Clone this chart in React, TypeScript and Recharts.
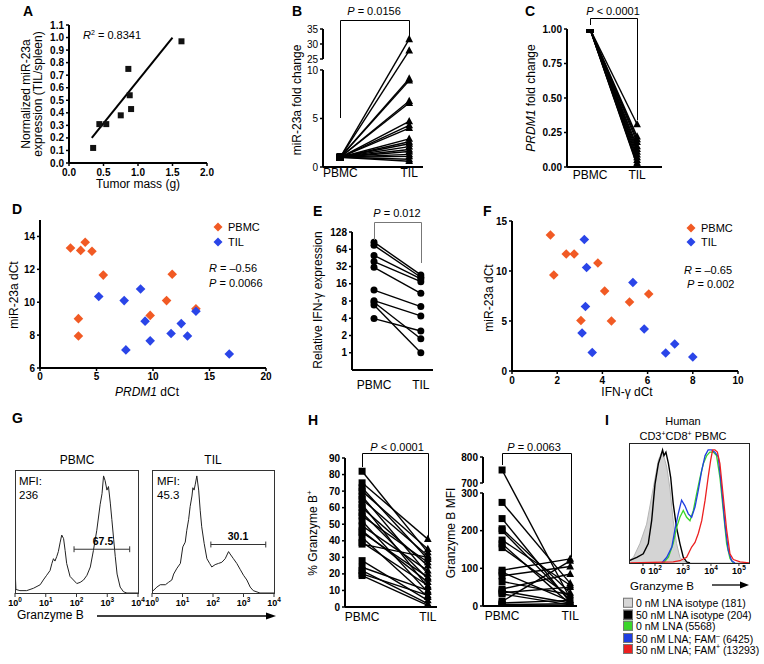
import React from 'react';
import {
  ScatterChart,
  Scatter,
  LineChart,
  Line,
  ComposedChart,
  Area,
  XAxis,
  YAxis,
  ReferenceLine,
} from 'recharts';

const FONT = "'Liberation Sans', Arial, Helvetica, sans-serif";
const ORANGE = '#f15a24';
const BLUE = '#2a45e8';

// A: normalized miR-23a vs tumor mass
const aMass = [0.35, 0.44, 0.54, 0.75, 0.86, 0.88, 0.9, 1.63];
const aMir = [0.12, 0.31, 0.31, 0.38, 0.75, 0.54, 0.43, 0.97];
const aFitMass = [0.33, 1.5];
const aFitMir = [0.2, 1.0];
const aXTicks = [0, 0.5, 1, 1.5, 2];
const aYTicks = [0, 0.1, 0.2, 0.3, 0.4, 0.5, 0.6, 0.7, 0.8, 0.9, 1.0, 1.1];

// B: miR-23a fold change, PBMC -> TIL
const bPbmc = [1, 1, 1, 1, 1, 1, 1, 1, 1, 1, 1, 1, 1, 1, 1, 1, 1, 1, 1];
const bTil = [31.6, 27.8, 9.1, 8.9, 6.8, 6.6, 4.7, 4.3, 4.0, 2.9, 2.6, 2.4, 2.1, 1.8, 1.6, 1.3, 1.1, 0.8, 0.6];
const bYTicks = [0, 5, 10, 25, 30, 35];

// C: PRDM1 fold change
const cPbmc = [1, 1, 1, 1, 1, 1, 1, 1, 1, 1, 1, 1, 1];
const cTil = [0.31, 0.22, 0.2, 0.18, 0.15, 0.13, 0.11, 0.09, 0.07, 0.05, 0.03, 0.02, 0.01];
const cYTicks = [0, 0.25, 0.5, 0.75, 1];

// D: miR-23a dCt vs PRDM1 dCt
const dPbmc = [[2.7, 13.3], [3.6, 13.15], [4.0, 13.65], [4.6, 13.1], [5.6, 11.65], [3.4, 9.0], [3.4, 7.95], [11.7, 11.7], [11.2, 10.1], [9.75, 9.2], [13.8, 9.6]];
const dTil = [[5.2, 10.35], [7.45, 10.1], [8.9, 10.8], [9.3, 8.85], [7.6, 7.1], [9.75, 7.65], [11.6, 8.1], [12.5, 8.7], [13.05, 7.95], [13.8, 9.45], [16.75, 6.85]];
const dXTicks = [0, 5, 10, 15, 20];
const dYTicks = [6, 8, 10, 12, 14];

// E: relative IFN-g expression
const ePbmc = [85, 75, 50, 39, 31, 12.4, 8.1, 7.6, 6.8, 3.95];
const eTil = [22.8, 20.8, 19.4, 17.4, 10.9, 6.4, 4.4, 1.76, 1.0, 2.4];
const eYTicks = [1, 2, 4, 8, 16, 32, 64, 128];

// F: miR-23a dCt vs IFN-g dCt
const fPbmc = [[1.7, 13.6], [1.85, 9.6], [2.4, 11.7], [2.75, 11.7], [3.8, 10.8], [4.1, 8.0], [3.05, 5.05], [4.4, 5.0], [5.2, 6.9], [6.05, 7.7]];
const fTil = [[3.2, 13.15], [3.3, 10.35], [3.25, 6.45], [3.1, 3.8], [3.55, 1.85], [5.35, 8.85], [5.85, 4.2], [6.8, 1.8], [7.2, 2.7], [8.0, 1.4]];
const fXTicks = [0, 2, 4, 6, 8, 10];
const fYTicks = [0, 5, 10, 15];

// G: granzyme B histograms (log10 intensity, % of max)
const gPbmc = [[0, 0], [0, 22], [0.03, 3], [0.16, 2], [0.38, 2], [0.6, 4], [0.82, 7], [0.92, 11], [1.03, 15], [1.14, 19], [1.2, 25], [1.25, 29], [1.3, 27], [1.36, 31], [1.41, 35], [1.47, 43], [1.52, 49], [1.58, 46], [1.63, 36], [1.68, 25], [1.79, 14], [1.9, 11], [2.01, 8], [2.12, 9], [2.23, 11], [2.34, 15], [2.45, 22], [2.55, 36], [2.66, 53], [2.77, 75], [2.83, 84], [2.88, 99], [2.93, 95], [2.99, 87], [3.04, 90], [3.1, 76], [3.15, 62], [3.21, 45], [3.26, 31], [3.32, 16], [3.42, 5], [3.53, 1], [3.64, 0], [4, 0]];
const gTil = [[0, 1], [0.16, 5], [0.27, 7], [0.44, 7], [0.54, 9], [0.65, 11], [0.71, 16], [0.82, 21], [0.93, 25], [1.01, 39], [1.09, 43], [1.14, 53], [1.2, 62], [1.25, 73], [1.31, 82], [1.34, 89], [1.38, 87], [1.42, 92], [1.47, 99], [1.53, 87], [1.58, 70], [1.63, 56], [1.71, 42], [1.8, 29], [1.89, 25], [1.96, 22], [2.07, 24], [2.18, 25], [2.29, 26], [2.4, 29], [2.51, 35], [2.56, 33], [2.67, 29], [2.78, 25], [2.89, 20], [3.0, 15], [3.11, 11], [3.22, 5], [3.32, 2], [3.54, 0], [4, 0]];
const gXTicks = [0, 1, 2, 3, 4];
const gXBase = ['10', '10', '10', '10', '10'];
const gXExp = ['0', '1', '2', '3', '4'];
const gPbmcGate = [1.92, 3.73, 37];
const gTilGate = [1.93, 3.73, 41];

// H: % granzyme B+ and granzyme B MFI
const hPctPbmc = [82, 75, 72, 70, 67, 65, 62, 60, 57, 55, 52, 49, 46, 42, 39, 38, 28, 24, 22, 20, 19, 45];
const hPctTil = [33, 41, 29, 35, 20, 31, 12, 25, 17, 27, 9, 22, 15, 6, 13, 30, 4, 10, 2, 7, 1, 18];
const hPctTicks = [0, 10, 20, 30, 40, 50, 60, 70, 80, 90];
const hMfiPbmc = [750, 275, 232, 205, 200, 175, 165, 155, 95, 90, 80, 65, 45, 40, 35, 32, 12, 8, 4, 2];
const hMfiTil = [20, 60, 10, 35, 15, 55, 5, 25, 125, 12, 105, 30, 85, 8, 50, 3, 120, 15, 6, 2];
const hMfiTicks = [0, 100, 200, 300, 700, 800];

// I: CD3+CD8+ PBMC histograms (display decades, % of max)
const iIso0 = [[1.07, 2], [1.23, 5], [1.46, 17], [1.7, 34], [1.94, 66], [2.12, 90], [2.24, 97], [2.32, 93], [2.42, 84], [2.54, 64], [2.65, 37], [2.77, 17], [2.89, 5], [3.01, 2], [3.13, 0], [5.36, 0]];
const iIso50 = [[1.08, 2], [1.35, 5], [1.58, 8], [1.76, 17], [1.88, 37], [2.0, 69], [2.12, 87], [2.2, 93], [2.27, 99], [2.32, 94], [2.39, 97], [2.48, 87], [2.56, 75], [2.65, 52], [2.77, 31], [2.89, 17], [3.01, 5], [3.13, 1], [3.25, 0]];
const iLna0 = [[2.3, 0], [2.48, 5], [2.65, 17], [2.77, 31], [2.89, 40], [3.01, 46], [3.13, 40], [3.25, 37], [3.37, 46], [3.49, 61], [3.61, 75], [3.73, 87], [3.85, 94], [3.96, 97], [4.08, 97], [4.2, 94], [4.32, 75], [4.44, 46], [4.56, 17], [4.68, 4], [4.8, 0]];
const iFamNeg = [[2.24, 0], [2.42, 5], [2.6, 14], [2.71, 29], [2.83, 43], [2.95, 55], [3.07, 50], [3.19, 43], [3.31, 40], [3.43, 49], [3.55, 64], [3.67, 81], [3.79, 94], [3.9, 99], [4.02, 99], [4.14, 97], [4.26, 93], [4.38, 66], [4.5, 34], [4.62, 11], [4.74, 2], [4.86, 0]];
const iFamPos = [[1.11, 0], [2.65, 1], [2.89, 2], [3.13, 5], [3.31, 14], [3.43, 18], [3.55, 26], [3.67, 37], [3.79, 55], [3.9, 75], [3.99, 90], [4.06, 99], [4.14, 99], [4.23, 97], [4.32, 87], [4.44, 58], [4.56, 29], [4.68, 8], [4.8, 3], [5.04, 1], [5.36, 0]];
const iXTicks = [1.57, 2, 3, 4, 5];
const iXBase = ['0', '10', '10', '10', '10'];
const iXExp = ['', '2', '3', '4', '5'];
const iLegend = [
  { label: '0 nM LNA isotype (181)', color: '#d6d6d6', sup: '', tail: '' },
  { label: '50 nM LNA isotype (204)', color: '#000000', sup: '', tail: '' },
  { label: '0 nM LNA (5568)', color: '#3ad62a', sup: '', tail: '' },
  { label: '50 nM LNA; FAM', color: '#1f3fe0', sup: '–', tail: ' (6425)' },
  { label: '50 nM LNA; FAM', color: '#ec2020', sup: '+', tail: ' (13293)' },
];

// broken axes
const bDisp = (v: number) => (v <= 10 ? v : 11.13 + (v - 25) * 0.309);
const hDisp = (v: number) => (v <= 300 ? v : 326.5 + (v - 700) * 0.69);

type Box = { x0: number; y0: number; x1: number; y1: number };

// place a chart so that its plot area sits exactly on box b
function frame(b: Box, l: number, t: number, r: number, bt: number, mirrored = false) {
  return {
    style: { position: 'absolute', left: b.x0 - l, top: b.y0 - t } as React.CSSProperties,
    width: b.x1 - b.x0 + l + r,
    height: b.y1 - b.y0 + t + bt,
    margin: { top: t, right: r, bottom: 0, left: mirrored ? l : 0 },
  };
}

const axisLine = { stroke: '#000', strokeWidth: 2 };
const tickLine = { stroke: '#000', strokeWidth: 1.5 };
const boldTick = { fontSize: 10, fontWeight: 700, fill: '#000' };

const squareShape = (s: number) => (p: any) => (
  <rect x={p.cx - s / 2} y={p.cy - s / 2} width={s} height={s} fill="#111" />
);

const diamondShape = (color: string) => (p: any) => (
  <path d={`M${p.cx},${p.cy - 4.8}L${p.cx + 4.8},${p.cy}L${p.cx},${p.cy + 4.8}L${p.cx - 4.8},${p.cy}Z`} fill={color} />
);

function pairDot(s: number, round = false) {
  return (p: any) => {
    const { cx, cy, payload, index } = p;
    const k = `d${index}`;
    if (cx == null || cy == null) return <g key={k} />;
    if (round) return <circle key={k} cx={cx} cy={cy} r={s / 2} fill="#000" />;
    if (payload.x === 0) {
      return <rect key={k} x={cx - s / 2} y={cy - s / 2} width={s} height={s} fill="#000" />;
    }
    return (
      <path
        key={k}
        d={`M${cx},${cy - s * 0.62}L${cx + s * 0.55},${cy + s * 0.42}L${cx - s * 0.55},${cy + s * 0.42}Z`}
        fill="#000"
      />
    );
  };
}

function powTick(ticks: number[], bases: string[], exps: string[]) {
  return (p: any) => {
    const i = ticks.findIndex((t) => Math.abs(t - p.payload.value) < 1e-6);
    if (i < 0) return <g />;
    return (
      <text x={p.x} y={p.y} dy="0.71em" textAnchor="middle" fontSize={9} fontWeight={700} fill="#000">
        {bases[i]}
        {exps[i] && (
          <tspan fontSize={6.5} dy={-4}>
            {exps[i]}
          </tspan>
        )}
      </text>
    );
  };
}

function PanelA() {
  const f = frame({ x0: 69, y0: 25, x1: 207, y1: 163 }, 32, 6, 12, 22);
  const pts = aMass.map((x, i) => ({ x, y: aMir[i] }));
  const fit = aFitMass.map((x, i) => ({ x, y: aFitMir[i] }));
  return (
    <div style={f.style}>
      <ScatterChart width={f.width} height={f.height} margin={f.margin}>
        <XAxis type="number" dataKey="x" domain={[0, 2]} ticks={aXTicks} interval={0} tickFormatter={(v: number) => v.toFixed(1)} axisLine={axisLine} tickLine={tickLine} tickSize={3} tickMargin={3} tick={boldTick} height={22} allowDataOverflow />
        <YAxis type="number" dataKey="y" domain={[0, 1.1]} ticks={aYTicks} interval={0} tickFormatter={(v: number) => v.toFixed(1)} axisLine={axisLine} tickLine={tickLine} tickSize={3} tick={boldTick} width={32} allowDataOverflow />
        <Scatter data={fit} line={{ stroke: '#000', strokeWidth: 2 }} shape={() => <g />} isAnimationActive={false} />
        <Scatter data={pts} shape={squareShape(6)} isAnimationActive={false} />
      </ScatterChart>
    </div>
  );
}

function Paired(props: any) {
  const { box, L, xDom, yDom, yTicks, yFmt, pbmc, til, dot, scale = 'linear', segs, bold = true, xGap } = props;
  const f = frame(box, L, 8, 6, 24);
  return (
    <div style={f.style}>
      <LineChart width={f.width} height={f.height} margin={f.margin}>
        <XAxis type="number" dataKey="x" domain={xDom} ticks={[0, 1]} interval={0} tickFormatter={(v: number) => (v === 0 ? 'PBMC' : 'TIL')} axisLine={axisLine} tickLine={false} tickSize={0} tickMargin={xGap} tick={{ fontSize: 12, fill: '#000' }} height={24} allowDataOverflow />
        <YAxis type="number" scale={scale} domain={yDom} ticks={yTicks} interval={0} tickFormatter={yFmt} axisLine={segs ? false : axisLine} tickLine={tickLine} tickSize={3} tick={{ ...boldTick, fontWeight: bold ? 700 : 400 }} width={L} allowDataOverflow />
        {segs &&
          segs.map((s: number[], i: number) => (
            <ReferenceLine key={`s${i}`} segment={[{ x: xDom[0], y: s[0] }, { x: xDom[0], y: s[1] }]} stroke="#000" strokeWidth={2} />
          ))}
        {pbmc.map((v: number, i: number) => (
          <Line
            key={i}
            data={[{ x: 0, y: v }, { x: 1, y: til[i] }]}
            dataKey="y"
            stroke="#000"
            strokeWidth={1.4}
            dot={dot}
            activeDot={false}
            isAnimationActive={false}
          />
        ))}
      </LineChart>
    </div>
  );
}

function Corr(props: any) {
  const { box, xDom, yDom, xTicks, yTicks, pbmc, til, xGap } = props;
  const f = frame(box, 24, 6, 12, 20);
  return (
    <div style={f.style}>
      <ScatterChart width={f.width} height={f.height} margin={f.margin}>
        <XAxis type="number" dataKey="x" domain={xDom} ticks={xTicks} interval={0} axisLine={axisLine} tickLine={tickLine} tickSize={3} tickMargin={xGap} tick={boldTick} height={20} allowDataOverflow />
        <YAxis type="number" dataKey="y" domain={yDom} ticks={yTicks} interval={0} axisLine={axisLine} tickLine={tickLine} tickSize={3} tick={boldTick} width={24} allowDataOverflow />
        <Scatter data={pbmc.map((p: number[]) => ({ x: p[0], y: p[1] }))} shape={diamondShape(ORANGE)} isAnimationActive={false} />
        <Scatter data={til.map((p: number[]) => ({ x: p[0], y: p[1] }))} shape={diamondShape(BLUE)} isAnimationActive={false} />
      </ScatterChart>
    </div>
  );
}

const gMinor = [0, 1, 2, 3].flatMap((k) => [2, 3, 4, 5, 6, 7, 8, 9].map((j) => k + Math.log10(j)));
const iMinor = [2, 3, 4].flatMap((k) => [2, 3, 4, 5, 6, 7, 8, 9].map((j) => k + Math.log10(j)));

function GHist({ box, pts, gate }: any) {
  const f = frame(box, 12, 2, 12, 20, true);
  const data = pts.map((p: number[]) => ({ x: p[0], y: p[1] }));
  const [g0, g1, gy] = gate;
  return (
    <div style={f.style}>
      <LineChart width={f.width} height={f.height} margin={f.margin}>
        <XAxis type="number" dataKey="x" domain={[0, 4]} ticks={gXTicks} interval={0} tick={powTick(gXTicks, gXBase, gXExp)} axisLine={false} tickLine={{ stroke: '#333' }} tickSize={4} tickMargin={3} height={20} allowDataOverflow />
        <XAxis xAxisId="m" type="number" dataKey="x" domain={[0, 4]} ticks={gMinor} interval={0} tick={false} axisLine={false} tickLine={{ stroke: '#333' }} tickSize={2} height={0} allowDataOverflow />
        <YAxis type="number" domain={[0, 104]} ticks={[16, 33, 49, 65, 81, 97]} interval={0} mirror tickFormatter={() => ''} axisLine={false} tickLine={{ stroke: '#333' }} tickSize={3} width={0} allowDataOverflow />
        <Line data={data} dataKey="y" stroke="#222" strokeWidth={1} dot={false} activeDot={false} isAnimationActive={false} />
        <ReferenceLine segment={[{ x: g0, y: gy }, { x: g1, y: gy }]} stroke="#333" />
        <ReferenceLine segment={[{ x: g0, y: gy - 2.5 }, { x: g0, y: gy + 2.5 }]} stroke="#333" />
        <ReferenceLine segment={[{ x: g1, y: gy - 2.5 }, { x: g1, y: gy + 2.5 }]} stroke="#333" />
      </LineChart>
    </div>
  );
}

function IHist() {
  const f = frame({ x0: 629, y0: 443, x1: 749, y1: 563 }, 8, 2, 12, 20, true);
  const toPts = (a: number[][]) => a.map((p) => ({ x: p[0], y: p[1] }));
  return (
    <div style={f.style}>
      <ComposedChart width={f.width} height={f.height} margin={f.margin} data={toPts(iIso0)}>
        <XAxis type="number" dataKey="x" domain={[1.07, 5.36]} ticks={iXTicks} interval={0} tick={powTick(iXTicks, iXBase, iXExp)} axisLine={false} tickLine={{ stroke: '#333' }} tickSize={3} tickMargin={2} height={20} allowDataOverflow />
        <XAxis xAxisId="m" type="number" dataKey="x" domain={[1.07, 5.36]} ticks={iMinor} interval={0} tick={false} axisLine={false} tickLine={{ stroke: '#333' }} tickSize={2} height={0} allowDataOverflow />
        <YAxis type="number" domain={[0, 105]} ticks={[20, 40, 60, 80, 100]} interval={0} mirror tickFormatter={() => ''} axisLine={false} tickLine={{ stroke: '#333' }} tickSize={3} width={0} allowDataOverflow />
        <Area type="linear" dataKey="y" fill="#d4d4d4" fillOpacity={1} stroke="#b5b5b5" strokeWidth={1} isAnimationActive={false} />
        <Line data={toPts(iIso50)} dataKey="y" stroke="#000" strokeWidth={1.4} dot={false} activeDot={false} isAnimationActive={false} />
        <Line data={toPts(iLna0)} dataKey="y" stroke="#3ad62a" strokeWidth={1.3} dot={false} activeDot={false} isAnimationActive={false} />
        <Line data={toPts(iFamNeg)} dataKey="y" stroke="#1f3fe0" strokeWidth={1.3} dot={false} activeDot={false} isAnimationActive={false} />
        <Line data={toPts(iFamPos)} dataKey="y" stroke="#ec2020" strokeWidth={1.3} dot={false} activeDot={false} isAnimationActive={false} />
      </ComposedChart>
    </div>
  );
}

function Tx({ x, y, a = 'start', s = 12, w = 400, rot = false, children, style }: any) {
  const tx = a === 'middle' ? '-50%' : a === 'end' ? '-100%' : '0';
  return (
    <div
      style={{
        position: 'absolute',
        left: x,
        top: y,
        transform: rot ? 'translate(-50%, -50%) rotate(-90deg)' : `translate(${tx}, -50%)`,
        fontSize: s,
        fontWeight: w,
        lineHeight: 1.1,
        whiteSpace: 'nowrap',
        textAlign: 'center',
        ...style,
      }}
    >
      {children}
    </div>
  );
}

const P = () => <i>P</i>;
const R = () => <i>R</i>;

export default function App() {
  const bTickPos = bYTicks.map(bDisp);
  const hTickPos = hMfiTicks.map(hDisp);
  const letters: [string, number, number][] = [
    ['A', 23, 12], ['B', 292, 12], ['C', 525, 12], ['D', 12, 210], ['E', 313, 212],
    ['F', 483, 212], ['G', 12, 419], ['H', 308, 421], ['I', 605, 421],
  ];
  return (
    <div style={{ position: 'absolute', left: 0, top: 0, width: 764, height: 664, background: '#fff', fontFamily: FONT, color: '#000', overflow: 'hidden' }}>
      <PanelA />
      <Paired
        box={{ x0: 323, y0: 29, x1: 423, y1: 167 }}
        L={22}
        xDom={[-0.25, 1.2]}
        yDom={[0, bDisp(35)]}
        yTicks={bTickPos}
        yFmt={(v: number) => String(bYTicks[bTickPos.findIndex((t) => Math.abs(t - v) < 1e-6)])}
        pbmc={bPbmc.map(bDisp)}
        til={bTil.map(bDisp)}
        dot={pairDot(7)}
        segs={[[0, 10], [bDisp(25), bDisp(35)]]}
        bold={false}
        xGap={1}
      />
      <Paired
        box={{ x0: 567, y0: 29, x1: 662, y1: 167 }}
        L={30}
        xDom={[-0.49, 1.53]}
        yDom={[0, 1]}
        yTicks={cYTicks}
        yFmt={(v: number) => v.toFixed(2)}
        pbmc={cPbmc}
        til={cTil}
        dot={pairDot(7)}
        xGap={3}
      />
      <Corr box={{ x0: 40, y0: 220, x1: 266, y1: 368 }} xDom={[0, 20]} yDom={[6, 15]} xTicks={dXTicks} yTicks={dYTicks} pbmc={dPbmc} til={dTil} xGap={2} />
      <Paired
        box={{ x0: 352, y0: 232, x1: 433, y1: 370 }}
        L={26}
        xDom={[-0.47, 1.26]}
        yDom={[0.5, 128]}
        scale="log"
        yTicks={eYTicks}
        yFmt={(v: number) => String(v)}
        pbmc={ePbmc}
        til={eTil}
        dot={pairDot(7, true)}
        xGap={10}
      />
      <Corr box={{ x0: 512, y0: 221, x1: 738, y1: 371 }} xDom={[0, 10]} yDom={[0, 15]} xTicks={fXTicks} yTicks={fYTicks} pbmc={fPbmc} til={fTil} xGap={3} />
      <GHist box={{ x0: 15, y0: 470, x1: 138, y1: 593 }} pts={gPbmc} gate={gPbmcGate} />
      <GHist box={{ x0: 152, y0: 470, x1: 274, y1: 593 }} pts={gTil} gate={gTilGate} />
      <Paired
        box={{ x0: 345, y0: 458, x1: 437, y1: 607 }}
        L={22}
        xDom={[-0.26, 1.14]}
        yDom={[0, 90]}
        yTicks={hPctTicks}
        yFmt={(v: number) => String(v)}
        pbmc={hPctPbmc}
        til={hPctTil}
        dot={pairDot(7)}
        xGap={5}
      />
      <Paired
        box={{ x0: 483, y0: 457, x1: 577, y1: 606 }}
        L={26}
        xDom={[-0.28, 1.1]}
        yDom={[0, hDisp(800)]}
        yTicks={hTickPos}
        yFmt={(v: number) => String(hMfiTicks[hTickPos.findIndex((t) => Math.abs(t - v) < 1e-6)])}
        pbmc={hMfiPbmc.map(hDisp)}
        til={hMfiTil.map(hDisp)}
        dot={pairDot(7)}
        segs={[[0, 300], [hDisp(700), hDisp(800)]]}
        xGap={5}
      />
      <IHist />

      <svg width={764} height={664} style={{ position: 'absolute', left: 0, top: 0, pointerEvents: 'none' }}>
        <g fill="none" stroke="#000" strokeWidth={1}>
          <path d="M340.5 118 L340.5 20.5 L409.5 20.5 L409.5 37" />
          <path d="M590.5 25 L590.5 18.5 L637.5 18.5 L637.5 120" />
          <path d="M374.5 240 L374.5 222.5 L421.5 222.5 L421.5 263" stroke="#777" />
          <path d="M362.5 467 L362.5 453.5 L428.5 453.5 L428.5 537" />
          <path d="M502.5 465 L502.5 453.5 L571.5 453.5 L571.5 557" />
          <rect x={15.5} y={470.5} width={123} height={123} stroke="#333" />
          <rect x={152.5} y={470.5} width={122} height={123} stroke="#333" />
          <rect x={629.5} y={443.5} width={120} height={120} stroke="#222" />
          <line x1={97} y1={616} x2={268} y2={616} strokeWidth={1.3} />
          <line x1={712} y1={585} x2={742} y2={585} strokeWidth={1.3} />
        </g>
        <polygon points="276,616 266,612.5 266,619.5" fill="#000" />
        <polygon points="749,585 740,581.5 740,588.5" fill="#000" />
        <path d="M218,222.5L222.5,227L218,231.5L213.5,227Z" fill={ORANGE} />
        <path d="M218,237.5L222.5,242L218,246.5L213.5,242Z" fill={BLUE} />
        <path d="M691,223.5L695.5,228L691,232.5L686.5,228Z" fill={ORANGE} />
        <path d="M691,237.5L695.5,242L691,246.5L686.5,242Z" fill={BLUE} />
      </svg>

      {letters.map(([t, x, y]) => (
        <Tx key={t} x={x} y={y} s={14} w={900}>{t}</Tx>
      ))}

      {/* A */}
      <Tx x={83} y={35} s={11}><R /><sup style={{ fontSize: 7 }}>2</sup> = 0.8341</Tx>
      <Tx x={138} y={185} a="middle" s={12}>Tumor mass (g)</Tx>
      <Tx x={32} y={94} rot s={12} style={{ lineHeight: '12px' }}>Normalized miR-23a<br />expression (TIL/spleen)</Tx>

      {/* B, C */}
      <Tx x={374} y={11} a="middle" s={11}><P /> = 0.0156</Tx>
      <Tx x={298} y={100} rot s={12}>miR-23a fold change</Tx>
      <Tx x={613} y={11} a="middle" s={11}><P /> &lt; 0.0001</Tx>
      <Tx x={532} y={98} rot s={12}><i>PRDM1</i> fold change</Tx>

      {/* D */}
      <Tx x={228} y={227} s={11}>PBMC</Tx>
      <Tx x={228} y={242} s={11}>TIL</Tx>
      <Tx x={209} y={268} s={11}><R /> = –0.56</Tx>
      <Tx x={209} y={283} s={11}><P /> = 0.0066</Tx>
      <Tx x={147} y={393} a="middle" s={12}><i>PRDM1</i> dCt</Tx>
      <Tx x={15} y={295} rot s={12}>miR-23a dCt</Tx>

      {/* E */}
      <Tx x={397} y={213} a="middle" s={11}><P /> = 0.012</Tx>
      <Tx x={319} y={300} rot s={12}>Relative IFN-γ expression</Tx>

      {/* F */}
      <Tx x={701} y={228} s={11}>PBMC</Tx>
      <Tx x={701} y={242} s={11}>TIL</Tx>
      <Tx x={684} y={270} s={11}><R /> = –0.65</Tx>
      <Tx x={687} y={284} s={11}><P /> = 0.002</Tx>
      <Tx x={627} y={393} a="middle" s={12}>IFN-γ dCt</Tx>
      <Tx x={490} y={298} rot s={12}>miR-23a dCt</Tx>

      {/* G */}
      <Tx x={77} y={461} a="middle" s={12}>PBMC</Tx>
      <Tx x={213} y={461} a="middle" s={12}>TIL</Tx>
      <Tx x={19} y={481} s={11.5}>MFI:</Tx>
      <Tx x={19} y={495} s={11.5}>236</Tx>
      <Tx x={157} y={481} s={11.5}>MFI:</Tx>
      <Tx x={157} y={495} s={11.5}>45.3</Tx>
      <Tx x={103} y={542} a="middle" s={10.5} w={700}>67.5</Tx>
      <Tx x={238} y={537} a="middle" s={10.5} w={700}>30.1</Tx>
      <Tx x={17} y={616} s={12}>Granzyme B</Tx>

      {/* H */}
      <Tx x={397} y={447} a="middle" s={11}><P /> &lt; 0.0001</Tx>
      <Tx x={534} y={447} a="middle" s={11}><P /> = 0.0063</Tx>
      <Tx x={313} y={533} rot s={12}>% Granzyme B<sup style={{ fontSize: 8 }}>+</sup></Tx>
      <Tx x={452} y={533} rot s={12}>Granzyme B MFI</Tx>

      {/* I */}
      <Tx x={683} y={421} a="middle" s={11}>Human</Tx>
      <Tx x={683} y={436} a="middle" s={11}>CD3<sup style={{ fontSize: 7 }}>+</sup>CD8<sup style={{ fontSize: 7 }}>+</sup> PBMC</Tx>
      <Tx x={630} y={586} s={11.5}>Granzyme B</Tx>
      {iLegend.map((it, i) => (
        <div key={it.label + i} style={{ position: 'absolute', left: 623, top: 603 + i * 11.6, transform: 'translateY(-50%)', display: 'flex', alignItems: 'center', fontSize: 10.5, whiteSpace: 'nowrap', lineHeight: 1 }}>
          <span style={{ display: 'inline-block', width: 10, height: 10, background: it.color, border: '1px solid #777', marginRight: 3, boxSizing: 'border-box' }} />
          <span>
            {it.label}
            {it.sup && <sup style={{ fontSize: 7 }}>{it.sup}</sup>}
            {it.tail}
          </span>
        </div>
      ))}
    </div>
  );
}
